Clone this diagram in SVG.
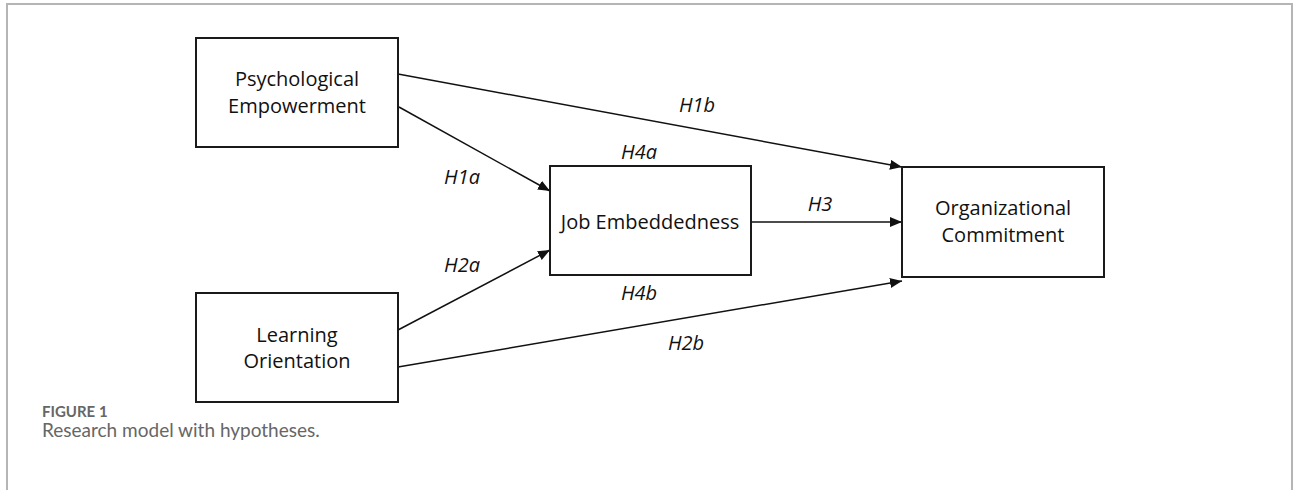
<svg xmlns="http://www.w3.org/2000/svg" width="1293" height="490" viewBox="0 0 1293 490">
<style>
.box{fill:#fff;stroke:#1a1a1a;stroke-width:2}
.lbl{font-family:"Open Sans","Liberation Sans",sans-serif;font-size:20px;fill:#111;text-anchor:middle}
.hyp{font-family:"Open Sans","Liberation Sans",sans-serif;font-size:20px;font-style:italic;fill:#111;text-anchor:middle}
.con{stroke:#111;stroke-width:1.5;fill:none;marker-end:url(#ah)}
.frame{fill:none;stroke:#b5b5b5;stroke-width:2}
.cap1{font-family:Lato,"Open Sans",sans-serif;font-size:15px;font-weight:bold;fill:#666}
.cap2{font-family:Lato,"Open Sans",sans-serif;font-size:19px;fill:#666}
</style>
<defs>
<marker id="ah" markerWidth="12" markerHeight="10" refX="12" refY="5" orient="auto" markerUnits="userSpaceOnUse">
<path d="M0,0 L12,5 L0,10 z" fill="#111"/>
</marker>
</defs>
<rect width="1293" height="490" fill="#fff"/>
<path class="frame" d="M7,490 V4 H1292 V490"/>
<g id="connectors">
<line class="con" x1="398" y1="74" x2="902" y2="167"/>
<line class="con" x1="399" y1="107" x2="550" y2="191"/>
<line class="con" x1="398" y1="330" x2="550" y2="250"/>
<line class="con" x1="398" y1="367" x2="902" y2="281"/>
<line class="con" x1="751" y1="222" x2="902" y2="222"/>
<text class="hyp" x="697" y="112">H1b</text>
<text class="hyp" x="639" y="159">H4a</text>
<text class="hyp" x="462" y="184">H1a</text>
<text class="hyp" x="820" y="211">H3</text>
<text class="hyp" x="462" y="272">H2a</text>
<text class="hyp" x="639" y="300">H4b</text>
<text class="hyp" x="686" y="350">H2b</text>
</g>
<g id="psychological-empowerment">
<rect class="box" x="196" y="38" width="202" height="109"/>
<text class="lbl" x="297" y="86">Psychological</text>
<text class="lbl" x="297" y="113">Empowerment</text>
</g>
<g id="learning-orientation">
<rect class="box" x="196" y="293" width="202" height="109"/>
<text class="lbl" x="297" y="342">Learning</text>
<text class="lbl" x="297" y="368">Orientation</text>
</g>
<g id="job-embeddedness">
<rect class="box" x="550" y="166" width="201" height="109"/>
<text class="lbl" x="650" y="229">Job Embeddedness</text>
</g>
<g id="organizational-commitment">
<rect class="box" x="902" y="167" width="202" height="110"/>
<text class="lbl" x="1003" y="215">Organizational</text>
<text class="lbl" x="1003" y="242">Commitment</text>
</g>
<g id="caption">
<text class="cap1" x="42" y="417">FIGURE 1</text>
<text class="cap2" x="42" y="437">Research model with hypotheses.</text>
</g>
</svg>
